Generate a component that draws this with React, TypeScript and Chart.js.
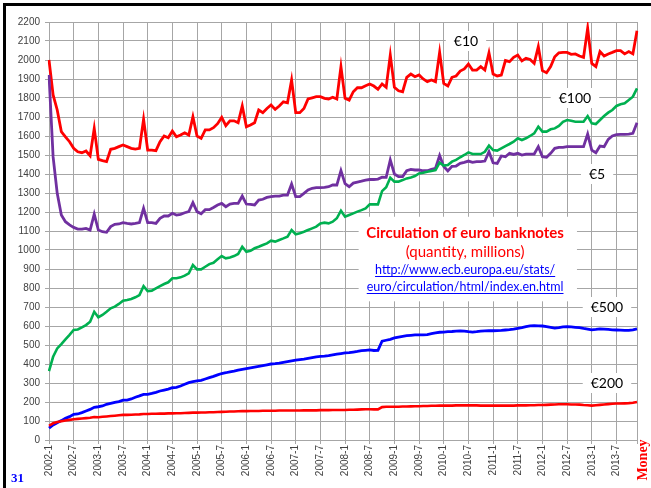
import React, { useEffect, useRef } from 'react';
import { Chart, registerables } from 'chart.js';

Chart.register(...registerables);

const years = [2002, 2003, 2004, 2005, 2006, 2007, 2008, 2009, 2010, 2011, 2012, 2013];
const months: string[] = years.flatMap((y) => Array.from({ length: 12 }, (_, m) => `${y}-${m + 1}`));
const tickLabels = [
  '2002-1', '2002-7', '2003-1', '2003-7', '2004-1', '2004-7', '2005-1', '2005-7',
  '2006-1', '2006-7', '2007-1', '2007-7', '2008-1', '2008-7', '2009-1', '2009-7',
  '2010-1', '2010-7', '2011-1', '2011-7', '2012-1', '2012-7', '2013-1', '2013-7',
];
const yTicks = { min: 0, max: 2200, step: 100 };

const euro10 = [
  2000, 1816, 1737, 1623, 1596, 1570, 1535, 1517, 1512, 1521, 1496, 1640,
  1477, 1470, 1465, 1530, 1535, 1544, 1553, 1544, 1535, 1531, 1535, 1688,
  1526, 1526, 1523, 1570, 1600, 1591, 1626, 1596, 1605, 1617, 1605, 1701,
  1600, 1588, 1632, 1632, 1644, 1665, 1698, 1654, 1680, 1680, 1670, 1758,
  1649, 1658, 1670, 1737, 1723, 1745, 1763, 1740, 1758, 1780, 1775, 1895,
  1723, 1723, 1745, 1795, 1801, 1807, 1807, 1798, 1795, 1804, 1795, 1965,
  1798, 1789, 1833, 1854, 1854, 1865, 1874, 1863, 1846, 1874, 1856, 2026,
  1856, 1838, 1833, 1909, 1926, 1912, 1921, 1900, 1886, 1895, 1886, 2040,
  1877, 1863, 1909, 1916, 1942, 1953, 1979, 1947, 1947, 1965, 1947, 2038,
  1926, 1916, 1921, 1997, 1991, 2014, 2026, 1995, 2009, 2003, 1982, 2070,
  1944, 1933, 1965, 2017, 2038, 2040, 2040, 2030, 2032, 2021, 2014, 2167,
  1982, 1965, 2044, 2021, 2032, 2040, 2049, 2049, 2032, 2044, 2032, 2154,
];

const euro5 = [
  1921, 1490, 1298, 1184, 1149, 1132, 1119, 1110, 1110, 1114, 1105, 1189,
  1105, 1096, 1093, 1123, 1135, 1137, 1144, 1140, 1137, 1140, 1144, 1219,
  1144, 1144, 1140, 1167, 1179, 1179, 1193, 1184, 1188, 1196, 1202, 1249,
  1202, 1191, 1212, 1212, 1224, 1237, 1245, 1228, 1242, 1245, 1245, 1284,
  1242, 1240, 1237, 1263, 1267, 1277, 1281, 1284, 1284, 1289, 1289, 1347,
  1281, 1281, 1298, 1316, 1325, 1328, 1328, 1330, 1333, 1342, 1342, 1418,
  1349, 1333, 1352, 1357, 1362, 1368, 1371, 1371, 1373, 1383, 1382, 1474,
  1400, 1386, 1386, 1417, 1424, 1421, 1421, 1417, 1417, 1424, 1430, 1497,
  1440, 1416, 1440, 1442, 1456, 1461, 1468, 1461, 1465, 1465, 1468, 1517,
  1459, 1456, 1495, 1491, 1509, 1503, 1509, 1500, 1505, 1505, 1505, 1544,
  1491, 1488, 1509, 1535, 1540, 1540, 1544, 1544, 1544, 1544, 1544, 1610,
  1526, 1512, 1547, 1544, 1582, 1600, 1607, 1609, 1609, 1610, 1614, 1670,
];

const euro100 = [
  363, 438, 482, 505, 530, 553, 579, 582, 593, 605, 623, 675,
  646, 658, 675, 693, 702, 716, 733, 737, 742, 751, 763, 810,
  784, 786, 798, 810, 821, 830, 851, 851, 856, 865, 877, 921,
  898, 898, 912, 926, 933, 951, 968, 956, 961, 968, 979, 1017,
  991, 996, 1009, 1017, 1026, 1035, 1049, 1044, 1053, 1061, 1070, 1105,
  1083, 1088, 1096, 1105, 1114, 1123, 1140, 1144, 1140, 1149, 1167, 1207,
  1175, 1184, 1193, 1202, 1210, 1219, 1240, 1240, 1240, 1310, 1330, 1380,
  1360, 1360, 1368, 1377, 1382, 1389, 1403, 1407, 1412, 1416, 1421, 1460,
  1444, 1447, 1465, 1474, 1488, 1500, 1514, 1505, 1505, 1505, 1517, 1549,
  1526, 1523, 1535, 1547, 1558, 1570, 1588, 1579, 1588, 1600, 1614, 1649,
  1623, 1623, 1635, 1640, 1653, 1675, 1684, 1680, 1675, 1675, 1675, 1705,
  1667, 1663, 1684, 1705, 1723, 1737, 1758, 1767, 1772, 1789, 1807, 1851,
];

const euro500 = [
  62, 79, 91, 102, 114, 123, 135, 137, 144, 153, 161, 172,
  175, 179, 188, 193, 198, 202, 210, 210, 216, 225, 232, 240,
  240, 245, 251, 258, 263, 268, 275, 277, 284, 293, 302, 307,
  311, 314, 321, 328, 335, 343, 350, 354, 359, 363, 368, 372,
  376, 380, 384, 388, 392, 396, 400, 402, 405, 409, 413, 417,
  420, 423, 426, 430, 434, 438, 440, 441, 444, 448, 452, 455,
  458, 460, 463, 466, 470, 472, 474, 471, 472, 520, 525, 530,
  537, 542, 546, 549, 551, 553, 553, 553, 555, 560, 564, 567,
  568, 570, 571, 573, 574, 573, 570, 568, 570, 573, 574, 575,
  575, 576, 577, 579, 581, 584, 588, 592, 597, 601, 602, 601,
  600, 597, 593, 589, 591, 595, 596, 595, 593, 591, 587, 584,
  580, 582, 585, 584, 582, 580, 579, 578, 577, 577, 580, 585,
];

const euro200 = [
  75, 88, 95, 99, 103, 106, 109, 111, 113, 115, 117, 121,
  120, 122, 124, 126, 128, 130, 132, 132, 133, 134, 135, 137,
  137, 138, 138, 139, 139, 140, 140, 141, 141, 142, 143, 144,
  144, 145, 145, 146, 146, 147, 148, 149, 150, 150, 151, 152,
  152, 153, 153, 153, 154, 154, 154, 154, 155, 155, 155, 155,
  155, 155, 156, 156, 156, 156, 157, 157, 157, 158, 158, 158,
  158, 159, 159, 160, 161, 162, 162, 161, 161, 173, 175, 175,
  175, 175, 176, 176, 177, 178, 178, 179, 179, 180, 180, 181,
  181, 181, 181, 182, 182, 182, 182, 182, 182, 181, 181, 181,
  181, 181, 181, 181, 181, 181, 182, 182, 182, 183, 183, 184,
  184, 185, 186, 187, 188, 188, 188, 187, 187, 186, 184, 183,
  181, 183, 185, 187, 189, 191, 192, 192, 193, 194, 196, 200,
];

// annotation anchors in data coordinates (category index, value)
const seriesLabels = [
  { text: '€10', at: [101.4, 2100] },
  { text: '€100', at: [127.9, 1800] },
  { text: '€5', at: [133.3, 1400] },
  { text: '€500', at: [135.7, 700] },
  { text: '€200', at: [135.7, 300] },
];
const infoBox = { from: [75.3, 1175], to: [128.4, 730] };
const infoLines = [
  { text: 'Circulation of euro banknotes', at: [101.2, 1090], font: 'bold 15px Lato', color: '#ff0000', link: false },
  { text: '(quantity, millions)', at: [101.2, 990], font: '15px Lato', color: '#ff0000', link: false },
  { text: 'http://www.ecb.europa.eu/stats/', at: [101.2, 895], font: '12.5px Lato', color: '#0000ff', link: true },
  { text: 'euro/circulation/html/index.en.html', at: [101.2, 805], font: '12.5px Lato', color: '#0000ff', link: true },
];

const GRID = '#a6a6a6';

const notesPlugin = {
  id: 'notes',
  beforeDatasetsDraw(chart: any) {
    const { ctx, scales } = chart;
    const x = scales.x;
    const y = scales.y;
    ctx.save();
    const bx1 = x.getPixelForValue(infoBox.from[0]);
    const by1 = y.getPixelForValue(infoBox.from[1]);
    const bx2 = x.getPixelForValue(infoBox.to[0]);
    const by2 = y.getPixelForValue(infoBox.to[1]);
    ctx.fillStyle = '#ffffff';
    ctx.fillRect(bx1, by1, bx2 - bx1, by2 - by1);
    ctx.textAlign = 'center';
    ctx.textBaseline = 'middle';
    for (const l of infoLines) {
      const px = x.getPixelForValue(l.at[0]);
      const py = y.getPixelForValue(l.at[1]);
      ctx.font = l.font;
      ctx.fillStyle = l.color;
      ctx.fillText(l.text, px, py);
      if (l.link) {
        const w = ctx.measureText(l.text).width;
        ctx.strokeStyle = l.color;
        ctx.lineWidth = 1;
        ctx.beginPath();
        ctx.moveTo(px - w / 2, Math.round(py + 6) + 0.5);
        ctx.lineTo(px + w / 2, Math.round(py + 6) + 0.5);
        ctx.stroke();
      }
    }
    ctx.font = '14px Lato';
    for (const s of seriesLabels) {
      const px = x.getPixelForValue(s.at[0]);
      const py = y.getPixelForValue(s.at[1]);
      const w = ctx.measureText(s.text).width;
      ctx.fillStyle = '#ffffff';
      ctx.fillRect(px - w / 2 - 8, py - 10, w + 16, 20);
      ctx.fillStyle = '#000000';
      ctx.fillText(s.text, px, py);
    }
    ctx.restore();
  },
};

export default function App() {
  const ref = useRef<HTMLCanvasElement | null>(null);
  useEffect(() => {
    document.body.style.margin = '0';
    const canvas = ref.current;
    if (!canvas) return;
    const mk = (label: string, data: number[], color: string, w: number) => ({
      label,
      data,
      borderColor: color,
      backgroundColor: color,
      borderWidth: w,
      pointRadius: 0,
      tension: 0,
      fill: false,
    });
    const chart = new Chart(canvas, {
      type: 'line',
      data: {
        labels: months,
        datasets: [
          mk('€200', euro200, '#ff0000', 2.6),
          mk('€500', euro500, '#0000ff', 2.8),
          mk('€100', euro100, '#00b050', 2.6),
          mk('€5', euro5, '#7030a0', 2.8),
          mk('€10', euro10, '#ff0000', 2.8),
        ],
      },
      options: {
        animation: false,
        responsive: false,
        devicePixelRatio: 1,
        layout: { padding: { top: 22, right: 14, left: 0, bottom: 0 } },
        plugins: { legend: { display: false }, tooltip: { enabled: false } },
        scales: {
          x: {
            type: 'category',
            offset: false,
            afterFit: (s: any) => { s.height = 48; },
            grid: {
              offset: false,
              tickLength: 4,
              color: (c: any) => (c.index % 6 === 0 || c.index === months.length - 1 ? GRID : 'rgba(0,0,0,0)'),
            },
            border: { color: GRID },
            ticks: {
              autoSkip: false,
              minRotation: 90,
              maxRotation: 90,
              padding: 1,
              color: '#404040',
              font: { family: 'Liberation Sans', size: 10 },
              callback: (_v: any, i: number) => (tickLabels.includes(months[i]) ? months[i] : ''),
            },
          },
          y: {
            min: yTicks.min,
            max: yTicks.max,
            afterFit: (s: any) => { s.width = 49; },
            grid: { color: GRID, tickLength: 4 },
            border: { color: GRID },
            ticks: {
              stepSize: yTicks.step,
              padding: 5,
              color: '#404040',
              font: { family: 'Liberation Sans', size: 10 },
              callback: (v: any) => String(v),
            },
          },
        },
      },
      plugins: [notesPlugin],
    });
    return () => chart.destroy();
  }, []);

  return (
    <div style={{ position: 'absolute', left: 0, top: 0, width: 651, height: 488, background: '#fff', overflow: 'hidden' }}>
      <canvas ref={ref} width={651} height={488} style={{ position: 'absolute', left: 0, top: 0, width: 651, height: 488 }} />
      <div style={{ position: 'absolute', left: 3, top: 3, width: 660, height: 500, borderTop: '3px solid #000', borderLeft: '3px solid #000', pointerEvents: 'none' }} />
      <div style={{ position: 'absolute', left: 11, top: 470, font: 'bold 13px "Liberation Serif"', color: '#0000ff' }}>31</div>
      <div style={{ position: 'absolute', left: 643, top: 460, transform: 'translate(-50%, -50%) rotate(-90deg)', font: 'bold 14px "Liberation Serif"', color: '#ff0000', whiteSpace: 'nowrap' }}>Money</div>
    </div>
  );
}
